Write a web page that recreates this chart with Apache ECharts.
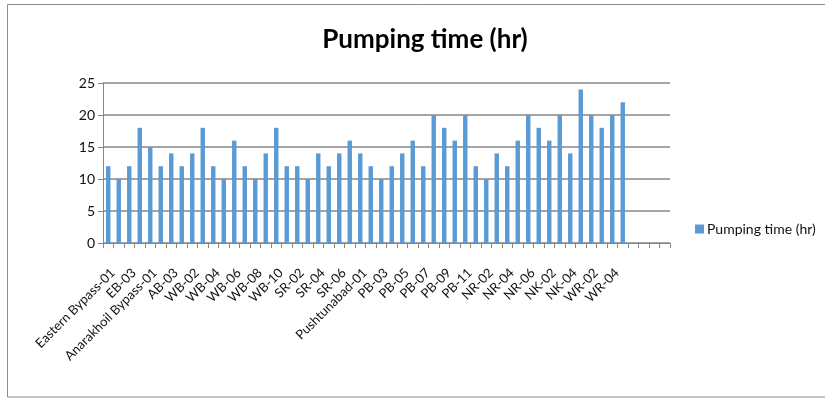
<!DOCTYPE html>
<html><head><meta charset="utf-8">
<script src="https://cdn.jsdelivr.net/npm/echarts@6/dist/echarts.min.js"></script>
<style>html,body{margin:0;padding:0;background:#fff}#c{width:825px;height:400px}</style>
</head><body><div id="c"></div>
<script>
const categories = [
  "Eastern Bypass-01","EB-02","EB-03","EB-04","Anarakhoil Bypass-01","AB-02","AB-03",
  "WB-01","WB-02","WB-03","WB-04","WB-05","WB-06","WB-07","WB-08","WB-09","WB-10",
  "SR-01","SR-02","SR-03","SR-04","SR-05","SR-06","SR-07",
  "Pushtunabad-01","PB-02","PB-03","PB-04","PB-05","PB-06","PB-07","PB-08","PB-09","PB-10","PB-11",
  "NR-01","NR-02","NR-03","NR-04","NR-05","NR-06",
  "NK-01","NK-02","NK-03","NK-04",
  "WR-01","WR-02","WR-03","WR-04","WR-05",
  "","","",""
];
const pumpingTime = [
  12,10,12,18,15,12,14,12,14,18,12,10,16,12,10,14,18,12,12,10,14,12,14,16,14,12,
  10,12,14,16,12,20,18,16,20,12,10,14,12,16,20,18,16,20,14,24,20,18,20,22,
  null,null,null,null
];
const yTicks = { min: 0, max: 25, interval: 5 };
const seriesName = "Pumping time (hr)";

const chart = echarts.init(document.getElementById('c'), null, {renderer:'canvas'});
const font = 'Lato, "Open Sans", sans-serif';
chart.setOption({
  animation: false,
  backgroundColor: '#fff',
  title: {
    text: 'Pumping time (hr)', left: 420, top: 22, textAlign: 'center',
    textStyle: { fontFamily: font, fontWeight: 'bold', fontSize: 26, color: '#000' }
  },
  legend: {
    data: [seriesName], orient: 'vertical', left: 690, top: 217,
    itemWidth: 9, itemHeight: 9, itemGap: 6, icon: 'rect',
    textStyle: { fontFamily: font, fontSize: 14, color: '#111', padding: [0,0,0,-2] }
  },
  graphic: [{
    type: 'rect', shape: { x: 7.5, y: 4.5, width: 830, height: 392.5 },
    style: { fill: 'none', stroke: '#8c8c8c', lineWidth: 1 }, silent: true
  }],
  grid: { left: 103, right: 155, top: 83, bottom: 157 },
  xAxis: {
    type: 'category', data: categories, boundaryGap: true,
    axisLine: { lineStyle: { color: '#868686', width: 1 } },
    axisTick: { show: true, alignWithLabel: false, interval: 0, length: 5, lineStyle: { color: '#868686' } },
    axisLabel: { interval: 1, rotate: 45, margin: 23, verticalAlign: 'top', fontFamily: font, fontSize: 13, color: '#111' }
  },
  yAxis: {
    type: 'value', min: yTicks.min, max: yTicks.max, interval: yTicks.interval,
    axisLine: { show: true, lineStyle: { color: '#868686' } },
    axisTick: { show: true, length: 5, lineStyle: { color: '#868686' } },
    axisLabel: { margin: 8, fontFamily: font, fontSize: 14, color: '#111' },
    splitLine: { lineStyle: { color: '#868686', width: 1.5 } }
  },
  series: [{
    name: seriesName, type: 'bar', data: pumpingTime, barWidth: '42%',
    itemStyle: { color: '#5B9BD5' }
  }]
});
</script></body></html>
